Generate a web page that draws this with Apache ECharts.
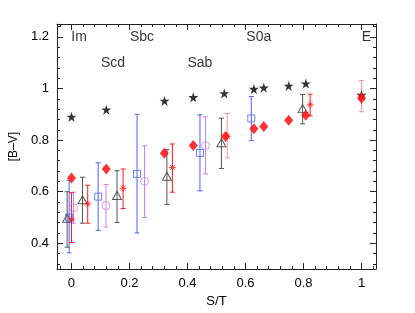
<!DOCTYPE html>
<html><head><meta charset="utf-8">
<script src="https://cdn.jsdelivr.net/npm/echarts@6/dist/echarts.min.js"></script>
<style>html,body{margin:0;padding:0;background:#fff}#c{width:415px;height:313px}</style>
</head><body><div id="c"></div>
<script>
// ---- data ----
const typeNames = ['Im','Scd','Sbc','Sab','S0a','E'];
const typeX = [0.026,0.143,0.243,0.443,0.646,1.017];
const typeY = [1.2,1.1,1.2,1.1,1.2,1.2];

const starX = [0,0.12,0.321,0.42,0.527,0.629,0.663,0.749,0.808,1.0];
const starY = [0.89,0.918,0.952,0.966,0.981,0.998,1.003,1.01,1.019,0.975];

const diaX = [0,0.12,0.32,0.42,0.531,0.629,0.663,0.749,0.808,1.0];
const diaY = [0.653,0.688,0.749,0.779,0.814,0.844,0.853,0.877,0.896,0.962];

const triX  = [-0.015,0.038,0.157,0.329,0.517,0.797];
const triY  = [0.497,0.569,0.585,0.66,0.79,0.922];
const triLo = [0.385,0.478,0.481,0.55,0.69,0.863];
const triHi = [0.6,0.656,0.681,0.763,0.885,0.977];

const astX  = [0.0,0.056,0.178,0.348,0.537,0.823,1.0];
const astY  = [0.493,0.553,0.613,0.694,0.815,0.937,0.97];
const astLo = [0.403,0.478,0.535,0.598,0.731,0.894,0.91];
const astHi = [0.596,0.625,0.688,0.785,0.903,0.978,1.031];
const astPale = [false,false,false,false,true,false,true];

const sqX  = [-0.008,0.092,0.226,0.443,0.62];
const sqY  = [0.5,0.581,0.669,0.75,0.884];
const sqLo = [0.363,0.45,0.44,0.603,0.798];
const sqHi = [0.644,0.712,0.9,0.898,0.969];

const cirX  = [0.007,0.119,0.252,0.462];
const cirY  = [0.538,0.546,0.64,0.779];
const cirLo = [0.478,0.463,0.5,0.669];
const cirHi = [0.598,0.628,0.778,0.89];

const xTicks = [0,0.2,0.4,0.6,0.8,1];
const yTicks = [0.4,0.6,0.8,1,1.2];
const xMinor = []; for (let i=-1;i<=26;i++) xMinor.push(+(i*0.04).toFixed(2));
const yMinor = []; for (let i=8;i<=31;i++) yMinor.push(+(i*0.04).toFixed(2));

// ---- chart ----
const FONT = 'Liberation Sans';
const AX = '#222';
const chart = echarts.init(document.getElementById('c'), null, {renderer:'canvas'});

function xAx(pos, vals, len, labels, line){
  return {type:'value', min:-0.05, max:1.05, position:pos, gridIndex:0,
    axisLine:{show:line, onZero:false, lineStyle:{color:AX,width:1}},
    axisTick:{show:true, inside:true, length:len, customValues:vals, lineStyle:{color:AX}},
    axisLabel:labels?{show:true, customValues:vals, fontSize:13, fontFamily:FONT, color:'#000', margin:8}:{show:false},
    splitLine:{show:false}};
}
function yAx(pos, vals, len, labels, line){
  return {type:'value', min:0.3, max:1.25, position:pos, gridIndex:0,
    axisLine:{show:line, onZero:false, lineStyle:{color:AX,width:1}},
    axisTick:{show:true, inside:true, length:len, customValues:vals, lineStyle:{color:AX}},
    axisLabel:labels?{show:true, customValues:vals, fontSize:13, fontFamily:FONT, color:'#000', margin:8}:{show:false},
    splitLine:{show:false}};
}
const xa0 = xAx('bottom', xTicks, 6, true, true);
xa0.name = 'S/T'; xa0.nameLocation='middle'; xa0.nameGap=21;
xa0.nameTextStyle = {fontSize:13, fontFamily:FONT, color:'#000', verticalAlign:'top'};
const ya0 = yAx('left', yTicks, 6, true, true);
ya0.name = '[B–V]'; ya0.nameLocation='middle'; ya0.nameGap=33;
ya0.nameTextStyle = {fontSize:12, fontFamily:FONT, color:'#000'};

function errSeries(xs, lo, hi, colorFn){
  const data = xs.map((x,i)=>[x, lo[i], hi[i], i]);
  return {type:'custom', xAxisIndex:0, yAxisIndex:0, data:data, encode:{x:0,y:[1,2]}, z:2,
    renderItem:function(params, api){
      const x=api.value(0), l=api.value(1), h=api.value(2), idx=api.value(3);
      const p1=api.coord([x,l]), p2=api.coord([x,h]);
      const w=2.5, c=colorFn(idx);
      const st={stroke:c, lineWidth:1};
      return {type:'group', children:[
        {type:'line', shape:{x1:p1[0],y1:p1[1],x2:p2[0],y2:p2[1]}, style:st},
        {type:'line', shape:{x1:p1[0]-w,y1:p1[1],x2:p1[0]+w,y2:p1[1]}, style:st},
        {type:'line', shape:{x1:p2[0]-w,y1:p2[1],x2:p2[0]+w,y2:p2[1]}, style:st}
      ]};
    }};
}
function pts(xs, ys){ return xs.map((x,i)=>[x, ys[i]]); }

const STAR = 'path://M50,0 L61.8,35.5 L99,35.5 L69,57.5 L80.5,93 L50,71 L19.5,93 L31,57.5 L1,35.5 L38.2,35.5 Z';
const AST = 'path://M0,5L10,5M5,0L5,10M1.5,1.5L8.5,8.5M1.5,8.5L8.5,1.5';

const RED='#ff1a1a', PALE='#ff8f8f', BLUE='#4f63ff', VIOL='#cf7cf0', GRAYBAR='#555';

const option = {
  animation:false,
  backgroundColor:'#fff',
  grid:{left:54, top:24, right:39, bottom:37, containLabel:false},
  xAxis:[xa0, xAx('bottom', xMinor, 3, false, false), xAx('top', xTicks, 6, false, true), xAx('top', xMinor, 3, false, false)],
  yAxis:[ya0, yAx('left', yMinor, 3, false, false), yAx('right', yTicks, 6, false, true), yAx('right', yMinor, 3, false, false)],
  series:[
    errSeries(sqX, sqLo, sqHi, ()=>BLUE),
    errSeries(cirX, cirLo, cirHi, ()=>VIOL),
    errSeries(triX, triLo, triHi, ()=>GRAYBAR),
    errSeries(astX, astLo, astHi, (i)=>astPale[i]?PALE:RED),
    {type:'scatter', data:pts(starX,starY), symbol:STAR, symbolSize:10, itemStyle:{color:'#000'}, z:3},
    {type:'scatter', data:pts(triX,triY), symbol:'triangle', symbolSize:[9,8], itemStyle:{color:'rgba(0,0,0,0)', borderColor:'#333', borderWidth:1}, z:3},
    {type:'scatter', data:pts(sqX,sqY), symbol:'rect', symbolSize:7, itemStyle:{color:'rgba(0,0,0,0)', borderColor:BLUE, borderWidth:1}, z:3},
    {type:'scatter', data:pts(cirX,cirY), symbol:'circle', symbolSize:8, itemStyle:{color:'rgba(0,0,0,0)', borderColor:VIOL, borderWidth:1}, z:3},
    {type:'scatter', data:pts(diaX,diaY), symbol:'diamond', symbolSize:[9,11], itemStyle:{color:'#ff0000'}, z:4},
    {type:'scatter', data:pts(astX,astY), symbol:AST, symbolSize:7, itemStyle:{color:'rgba(0,0,0,0)', borderColor:RED, borderWidth:1}, z:5},
    {type:'scatter', symbolSize:0, silent:true, z:6,
      data:typeNames.map((n,i)=>({name:n, value:[typeX[i], typeY[i]]})),
      label:{show:true, position:'inside', formatter:'{b}', fontSize:14, fontFamily:FONT, color:'#000'}}
  ]
};
chart.setOption(option);
</script></body></html>
